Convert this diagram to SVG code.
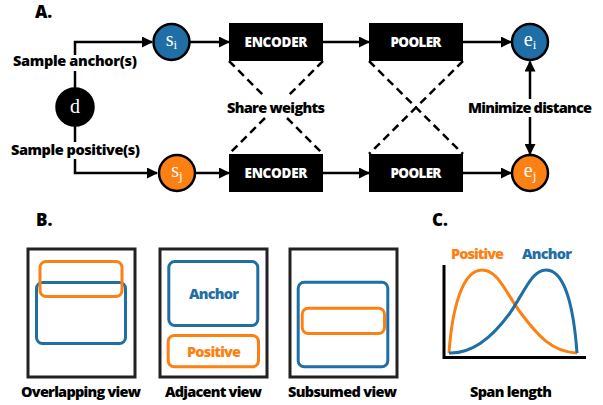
<svg xmlns="http://www.w3.org/2000/svg" width="603" height="405" viewBox="0 0 603 405">
<defs>
<marker id="arr" markerUnits="userSpaceOnUse" markerWidth="11" markerHeight="11" refX="10" refY="5.5" orient="auto-start-reverse">
<path d="M0,0 L11,5.5 L0,11 z" fill="#000"/>
</marker>
</defs>
<style>
.lbl{font-family:"Open Sans","Liberation Sans",sans-serif;font-weight:800;font-size:14.5px;fill:#000}
.hdr{font-family:"Open Sans","Liberation Sans",sans-serif;font-weight:800;font-size:17px;fill:#000}
.box{fill:#000}
.boxt{font-family:"Open Sans","Liberation Sans",sans-serif;font-weight:800;font-size:13.5px;fill:#fff;text-anchor:middle}
.math{font-family:"Liberation Serif","DejaVu Serif",serif;font-size:20px;fill:#fff;text-anchor:middle}
.sub{font-size:13px}
.conn{fill:none;stroke:#000;stroke-width:2.5}
.dash{fill:none;stroke:#000;stroke-width:2.5;stroke-dasharray:8 5}
.frame{fill:none;stroke:#222;stroke-width:3}
.blue{fill:none;stroke:#1f6fa6;stroke-width:3}
.orange{fill:none;stroke:#fd8112;stroke-width:3}
.bt{fill:#1f6fa6}
.ot{fill:#fd8112}
</style>
<rect width="603" height="405" fill="#fff"/>

<text class="hdr" x="35" y="18">A.</text>

<g id="connectors">
<path class="conn" d="M75,88 V71"/>
<path class="conn" d="M75,55 V42 H152" marker-end="url(#arr)"/>
<path class="conn" d="M75,126 V142"/>
<path class="conn" d="M75,159 V173 H157" marker-end="url(#arr)"/>
<path class="conn" d="M190,42 H229" marker-end="url(#arr)"/>
<path class="conn" d="M196,173 H229" marker-end="url(#arr)"/>
<path class="conn" d="M323,42 H369" marker-end="url(#arr)"/>
<path class="conn" d="M323,173 H369" marker-end="url(#arr)"/>
<path class="conn" d="M463,42 H511" marker-end="url(#arr)"/>
<path class="conn" d="M463,173 H511" marker-end="url(#arr)"/>
<path class="conn" d="M530,99 V61.5" marker-end="url(#arr)"/>
<path class="conn" d="M530,117 V154" marker-end="url(#arr)"/>
<path class="dash" d="M229,61 L265,97 M287,118 L323,154"/>
<path class="dash" d="M323,61 L287,97 M265,118 L229,154"/>
<path class="dash" d="M369,61 L463,154"/>
<path class="dash" d="M463,61 L369,154"/>
</g>

<text class="lbl" x="13" y="66" textLength="124">Sample anchor(s)</text>
<text class="lbl" x="11" y="155" textLength="129">Sample positive(s)</text>
<text class="lbl" x="227" y="112.5" textLength="98">Share weights</text>
<text class="lbl" x="468" y="113" textLength="124">Minimize distance</text>

<g id="node-d">
<circle cx="75" cy="107" r="18.5" fill="#000" stroke="#000" stroke-width="2.5"/>
<text class="math" x="75" y="113">d</text>
</g>
<g id="node-si">
<circle cx="171.5" cy="42" r="18" fill="#1f6fa6" stroke="#000" stroke-width="2.5"/>
<text class="math" x="171.5" y="46">s<tspan class="sub" dy="3">i</tspan></text>
</g>
<g id="node-sj">
<circle cx="177" cy="173" r="18" fill="#fd8112" stroke="#000" stroke-width="2.5"/>
<text class="math" x="177" y="177">s<tspan class="sub" dy="3">j</tspan></text>
</g>
<g id="node-enc1">
<rect class="box" x="229" y="23" width="94" height="38"/>
<text class="boxt" x="276" y="46.5" textLength="63">ENCODER</text>
</g>
<g id="node-enc2">
<rect class="box" x="229" y="154" width="94" height="38"/>
<text class="boxt" x="276" y="177.5" textLength="63">ENCODER</text>
</g>
<g id="node-pool1">
<rect class="box" x="369" y="23" width="94" height="38"/>
<text class="boxt" x="416" y="46.5" textLength="51">POOLER</text>
</g>
<g id="node-pool2">
<rect class="box" x="369" y="154" width="94" height="38"/>
<text class="boxt" x="416" y="177.5" textLength="51">POOLER</text>
</g>
<g id="node-ei">
<circle cx="530" cy="42" r="18" fill="#1f6fa6" stroke="#000" stroke-width="2.5"/>
<text class="math" x="530" y="46">e<tspan class="sub" dy="3">i</tspan></text>
</g>
<g id="node-ej">
<circle cx="530" cy="173" r="18" fill="#fd8112" stroke="#000" stroke-width="2.5"/>
<text class="math" x="530" y="177">e<tspan class="sub" dy="3">j</tspan></text>
</g>

<text class="hdr" x="36" y="226">B.</text>

<g id="view-overlapping">
<rect class="frame" x="28" y="249" width="107" height="128"/>
<rect class="blue" x="36.5" y="282.5" width="89" height="61" rx="6"/>
<rect class="orange" x="40" y="261.5" width="82" height="35" rx="6"/>
<text class="lbl" x="21" y="397" textLength="120">Overlapping view</text>
</g>
<g id="view-adjacent">
<rect class="frame" x="160" y="249" width="107" height="128"/>
<rect class="blue" x="168.8" y="261.5" width="89" height="64" rx="6"/>
<rect class="orange" x="168.2" y="335.5" width="90.3" height="31.3" rx="6"/>
<text class="lbl bt" x="189" y="299" textLength="50">Anchor</text>
<text class="lbl ot" x="187" y="357" textLength="54">Positive</text>
<text class="lbl" x="165" y="397" textLength="97">Adjacent view</text>
</g>
<g id="view-subsumed">
<rect class="frame" x="290" y="249" width="107" height="128"/>
<rect class="blue" x="298.2" y="282.2" width="89.6" height="84.6" rx="6"/>
<rect class="orange" x="302.2" y="308.2" width="82.3" height="25.3" rx="6"/>
<text class="lbl" x="288" y="397" textLength="109">Subsumed view</text>
</g>

<text class="hdr" x="432" y="226">C.</text>

<g id="plot">
<path d="M444,265 V357.5 H586" fill="none" stroke="#000" stroke-width="3"/>
<path class="orange" stroke-width="3.5" d="M449,353 C452,310 462,270 482,270 C498,270 506,293 520,312 C538,336 552,352 577,353"/>
<path class="blue" stroke-width="3.5" d="M449,353 C472,354 492,338 510,313 C525,291 532,270 546,270 C566,270 574,312 577,353"/>
<text class="lbl ot" x="451" y="258.5" textLength="53">Positive</text>
<text class="lbl bt" x="522" y="258.5" textLength="50">Anchor</text>
<text class="lbl" x="470" y="397" textLength="82">Span length</text>
</g>
</svg>
